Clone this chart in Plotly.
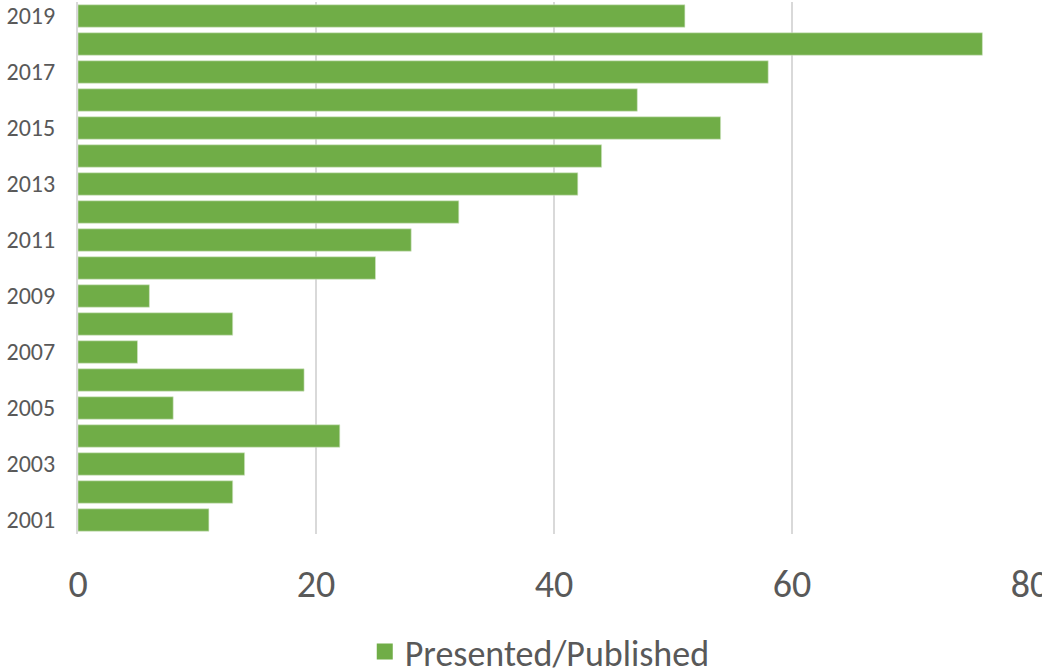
import plotly.graph_objects as go

years = [str(y) for y in range(2001, 2020)]
values = [11, 13, 14, 22, 8, 19, 5, 13, 6, 25, 28, 32, 42, 44, 54, 47, 58, 76, 51]
ytick_labels = [str(y) for y in range(2001, 2020, 2)]
xticks = [0, 20, 40, 60, 80]

GREEN = "#70AD47"
TXT = "#595959"
FONT = "Carlito, Calibri, 'Open Sans', sans-serif"

fig = go.Figure()
fig.add_trace(go.Bar(
    y=years, x=values, orientation="h",
    marker=dict(color=GREEN, line=dict(color="#D4E6C8", width=0.6)),
    showlegend=False, name="Presented/Published",
))
fig.add_trace(go.Scatter(
    x=[None], y=[None], mode="markers", name="Presented/Published",
    marker=dict(symbol="square", size=20, color=GREEN),
    showlegend=True,
))

fig.update_layout(
    width=1042, height=669,
    margin=dict(l=78, r=12, t=2, b=135, autoexpand=False),
    paper_bgcolor="white", plot_bgcolor="white",
    bargap=0.2,
    font=dict(family=FONT, color=TXT),
    legend=dict(orientation="h", x=0.518, xanchor="center", xref="container",
                y=0.026, yanchor="middle", yref="container",
                font=dict(size=36, color=TXT), itemwidth=30,
                tracegroupgap=0, borderwidth=0),
    xaxis=dict(range=[0, 80], tickvals=xticks, showgrid=True, gridcolor="#D9D9D9",
               gridwidth=1.5, zeroline=False, showline=False, automargin=False,
               tickfont=dict(size=38, color=TXT), ticks="outside", ticklen=0,
               ticklabelstandoff=16, ticklabeloverflow="allow"),
    yaxis=dict(type="category", categoryorder="array", categoryarray=years,
               tickvals=ytick_labels, showgrid=False, showline=True, automargin=False,
               linecolor="#D9D9D9", linewidth=2, tickfont=dict(size=24, color=TXT),
               ticks="", ticklabelstandoff=16),
)

fig.write_html("out.html")
